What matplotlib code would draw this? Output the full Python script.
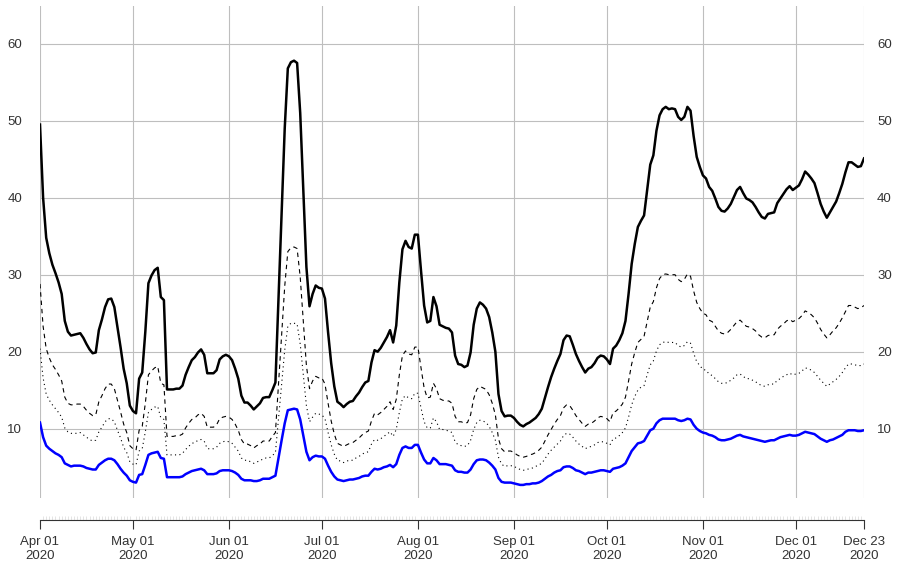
import numpy as np
import pandas as pd
import matplotlib
matplotlib.use("Agg")
import matplotlib.pyplot as plt
import matplotlib.dates as mdates

plt.rcParams['font.family'] = ['Liberation Sans', 'DejaVu Sans']

# daily observations, 2020-04-01 .. 2020-12-23
start, end = '2020-04-01', '2020-12-23'

upper = [49.5, 40.0, 34.8, 32.8, 31.3, 30.2, 29.0, 27.5, 24.0, 22.6,
         22.1, 22.2, 22.3, 22.4, 21.8, 21.0, 20.3, 19.8, 19.9, 22.8,
         24.2, 25.8, 26.8, 26.9, 25.8, 23.2, 20.6, 17.8, 15.9, 13.0,
         12.3, 12.0, 16.5, 17.3, 22.6, 28.9, 29.9, 30.6, 30.9, 27.1,
         26.7, 15.1, 15.1, 15.1, 15.2, 15.2, 15.6, 17.0, 18.0, 18.9,
         19.3, 19.9, 20.3, 19.6, 17.2, 17.2, 17.2, 17.6, 19.0, 19.4,
         19.6, 19.4, 18.9, 17.8, 16.5, 14.3, 13.4, 13.4, 13.0, 12.5,
         12.9, 13.3, 14.0, 14.1, 14.1, 15.0, 16.0, 27.0, 38.0, 49.0,
         56.8, 57.6, 57.8, 57.5, 51.0, 41.0, 31.0, 25.9, 27.5, 28.6,
         28.3, 28.2, 26.9, 22.5, 18.5, 15.5, 13.5, 13.2, 12.8, 13.2,
         13.5, 13.6, 14.2, 14.7, 15.4, 16.0, 16.2, 18.6, 20.2, 20.0,
         20.5, 21.2, 21.9, 22.8, 21.2, 23.4, 29.0, 33.3, 34.4, 33.6,
         33.4, 35.2, 35.2, 30.5, 26.0, 23.8, 24.0, 27.1, 25.9, 23.5,
         23.3, 23.1, 23.0, 22.5, 19.5, 18.4, 18.3, 18.0, 18.2, 19.9,
         23.5, 25.6, 26.4, 26.1, 25.6, 24.5, 22.5, 20.0, 14.5, 12.3,
         11.6, 11.7, 11.7, 11.4, 10.9, 10.5, 10.3, 10.6, 10.8, 11.1,
         11.4, 11.9, 12.6, 14.0, 15.4, 16.7, 17.8, 18.8, 19.7, 21.5,
         22.1, 22.0, 20.9, 19.7, 18.8, 18.0, 17.3, 17.8, 18.0, 18.5,
         19.2, 19.5, 19.4, 19.0, 18.4, 20.4, 20.8, 21.5, 22.4, 24.0,
         27.5, 31.4, 34.0, 36.2, 37.0, 37.7, 41.0, 44.3, 45.5, 48.7,
         50.7, 51.5, 51.8, 51.5, 51.6, 51.5, 50.5, 50.1, 50.5, 51.8,
         51.3, 48.0, 45.3, 44.0, 42.9, 42.5, 41.4, 40.9, 39.9, 38.8,
         38.3, 38.2, 38.6, 39.2, 40.1, 41.0, 41.4, 40.6, 39.9, 39.7,
         39.4, 38.8, 38.1, 37.5, 37.3, 37.9, 38.0, 38.1, 39.3, 39.9,
         40.5, 41.1, 41.5, 41.0, 41.3, 41.6, 42.4, 43.4, 43.0, 42.5,
         41.9, 40.6, 39.2, 38.2, 37.4, 38.1, 38.8, 39.5, 40.6, 41.8,
         43.3, 44.6, 44.6, 44.3, 44.0, 44.1, 45.1]

dashed = [28.8, 23.3, 20.4, 19.2, 18.3, 17.7, 17.0, 16.2, 14.1, 13.3,
          13.1, 13.1, 13.2, 13.2, 12.9, 12.4, 12.0, 11.7, 11.8, 13.5,
          14.3, 15.2, 15.8, 15.8, 15.2, 13.7, 12.2, 10.6, 9.5, 7.8,
          7.4, 7.2, 9.8, 10.3, 13.3, 17.0, 17.5, 17.9, 18.1, 15.9,
          15.7, 9.0, 9.0, 9.0, 9.1, 9.1, 9.3, 10.1, 10.7, 11.2,
          11.4, 11.8, 12.0, 11.6, 10.2, 10.2, 10.2, 10.5, 11.3, 11.5,
          11.6, 11.5, 11.2, 10.6, 9.8, 8.6, 8.0, 8.0, 7.8, 7.5,
          7.8, 8.0, 8.4, 8.4, 8.4, 9.0, 9.5, 15.9, 22.2, 28.5,
          33.0, 33.5, 33.6, 33.4, 29.7, 23.9, 18.2, 15.2, 16.2, 16.8,
          16.6, 16.6, 15.8, 13.3, 11.0, 9.3, 8.1, 7.9, 7.7, 7.9,
          8.1, 8.2, 8.5, 8.8, 9.2, 9.5, 9.7, 11.0, 12.0, 11.8,
          12.1, 12.5, 12.9, 13.5, 12.5, 13.8, 17.0, 19.5, 20.1, 19.7,
          19.6, 20.6, 20.6, 17.9, 15.3, 14.0, 14.1, 15.9, 15.2, 13.9,
          13.7, 13.6, 13.6, 13.3, 11.6, 10.9, 10.9, 10.7, 10.8, 11.8,
          13.9, 15.1, 15.5, 15.3, 15.1, 14.4, 13.3, 11.8, 8.7, 7.4,
          7.0, 7.1, 7.1, 6.9, 6.6, 6.4, 6.3, 6.4, 6.6, 6.7,
          6.9, 7.2, 7.6, 8.4, 9.2, 9.9, 10.6, 11.2, 11.7, 12.7,
          13.1, 13.0, 12.4, 11.7, 11.2, 10.7, 10.3, 10.6, 10.7, 11.0,
          11.4, 11.6, 11.5, 11.3, 10.9, 12.1, 12.3, 12.7, 13.2, 14.1,
          16.2, 18.4, 19.9, 21.2, 21.6, 22.0, 23.9, 25.8, 26.5, 28.3,
          29.5, 30.0, 30.1, 30.0, 30.0, 30.0, 29.4, 29.1, 29.4, 30.1,
          29.8, 27.9, 26.4, 25.6, 25.0, 24.8, 24.1, 23.9, 23.3, 22.7,
          22.4, 22.3, 22.5, 22.9, 23.4, 23.9, 24.1, 23.7, 23.3, 23.2,
          23.0, 22.7, 22.2, 21.9, 21.8, 22.1, 22.2, 22.2, 22.9, 23.3,
          23.6, 24.0, 24.2, 23.9, 24.1, 24.3, 24.7, 25.3, 25.1, 24.8,
          24.4, 23.7, 22.9, 22.3, 21.8, 22.2, 22.7, 23.1, 23.7, 24.4,
          25.2, 26.0, 26.0, 25.8, 25.6, 25.7, 26.0]

dotted = [20.4, 16.6, 14.5, 13.7, 13.1, 12.6, 12.1, 11.5, 10.1, 9.6,
          9.4, 9.4, 9.4, 9.5, 9.2, 8.9, 8.6, 8.4, 8.5, 9.6,
          10.2, 10.9, 11.3, 11.3, 10.9, 9.8, 8.8, 7.6, 6.9, 5.7,
          5.4, 5.3, 7.1, 7.4, 9.6, 12.1, 12.5, 12.8, 12.9, 11.4,
          11.2, 6.6, 6.6, 6.6, 6.6, 6.6, 6.8, 7.3, 7.7, 8.1,
          8.2, 8.5, 8.6, 8.4, 7.4, 7.4, 7.4, 7.6, 8.1, 8.3,
          8.4, 8.3, 8.1, 7.6, 7.1, 6.2, 5.9, 5.9, 5.7, 5.5,
          5.7, 5.8, 6.1, 6.2, 6.2, 6.5, 6.9, 11.3, 15.8, 20.2,
          23.3, 23.7, 23.7, 23.6, 21.0, 17.0, 13.0, 10.9, 11.5, 12.0,
          11.9, 11.8, 11.3, 9.5, 7.9, 6.7, 5.9, 5.8, 5.6, 5.8,
          5.9, 5.9, 6.2, 6.4, 6.7, 6.9, 7.0, 8.0, 8.6, 8.5,
          8.7, 9.0, 9.3, 9.6, 9.0, 9.9, 12.1, 13.9, 14.3, 14.0,
          13.9, 14.6, 14.6, 12.7, 10.9, 10.1, 10.1, 11.4, 10.9, 9.9,
          9.9, 9.8, 9.7, 9.5, 8.3, 7.9, 7.8, 7.7, 7.8, 8.5,
          9.9, 10.8, 11.1, 11.0, 10.8, 10.3, 9.5, 8.5, 6.3, 5.4,
          5.1, 5.2, 5.2, 5.1, 4.9, 4.7, 4.6, 4.7, 4.8, 4.9,
          5.1, 5.3, 5.5, 6.1, 6.7, 7.2, 7.6, 8.0, 8.4, 9.1,
          9.4, 9.3, 8.9, 8.4, 8.0, 7.7, 7.4, 7.6, 7.7, 7.9,
          8.2, 8.3, 8.3, 8.1, 7.9, 8.7, 8.8, 9.1, 9.5, 10.1,
          11.5, 13.1, 14.2, 15.0, 15.4, 15.6, 17.0, 18.3, 18.8, 20.1,
          20.9, 21.2, 21.3, 21.2, 21.2, 21.2, 20.8, 20.6, 20.8, 21.3,
          21.1, 19.8, 18.7, 18.2, 17.7, 17.6, 17.1, 16.9, 16.5, 16.1,
          15.9, 15.9, 16.0, 16.3, 16.6, 17.0, 17.1, 16.8, 16.5, 16.5,
          16.3, 16.1, 15.8, 15.6, 15.5, 15.7, 15.8, 15.8, 16.3, 16.5,
          16.8, 17.0, 17.2, 17.0, 17.1, 17.2, 17.5, 17.9, 17.8, 17.6,
          17.3, 16.8, 16.3, 15.9, 15.5, 15.8, 16.1, 16.4, 16.8, 17.3,
          17.9, 18.4, 18.4, 18.3, 18.2, 18.2, 18.4]

lower = [10.8, 8.9, 7.8, 7.4, 7.1, 6.8, 6.6, 6.3, 5.5, 5.3,
         5.1, 5.2, 5.2, 5.2, 5.1, 4.9, 4.8, 4.7, 4.7, 5.3,
         5.6, 5.9, 6.1, 6.1, 5.9, 5.4, 4.8, 4.3, 3.9, 3.3,
         3.1, 3.0, 4.0, 4.1, 5.3, 6.6, 6.8, 6.9, 7.0, 6.2,
         6.1, 3.7, 3.7, 3.7, 3.7, 3.7, 3.8, 4.1, 4.3, 4.5,
         4.6, 4.7, 4.8, 4.6, 4.1, 4.1, 4.1, 4.2, 4.5, 4.6,
         4.6, 4.6, 4.5, 4.3, 4.0, 3.5, 3.3, 3.3, 3.3, 3.2,
         3.2, 3.3, 3.5, 3.5, 3.5, 3.7, 3.9, 6.2, 8.5, 10.7,
         12.4, 12.5, 12.6, 12.5, 11.2, 9.1, 7.0, 5.9, 6.3, 6.5,
         6.4, 6.4, 6.1, 5.2, 4.4, 3.8, 3.4, 3.3, 3.2, 3.3,
         3.4, 3.4, 3.5, 3.6, 3.8, 3.9, 3.9, 4.4, 4.8, 4.7,
         4.8, 5.0, 5.1, 5.3, 5.0, 5.4, 6.6, 7.5, 7.7, 7.5,
         7.5, 7.9, 7.9, 6.9, 6.0, 5.5, 5.5, 6.2, 5.9, 5.4,
         5.4, 5.4, 5.3, 5.2, 4.6, 4.4, 4.4, 4.3, 4.3, 4.7,
         5.4, 5.9, 6.0, 6.0, 5.9, 5.6, 5.2, 4.7, 3.6, 3.1,
         3.0, 3.0, 3.0, 2.9, 2.8, 2.7, 2.7, 2.8, 2.8, 2.9,
         2.9, 3.0, 3.2, 3.5, 3.8, 4.0, 4.3, 4.5, 4.6, 5.0,
         5.1, 5.1, 4.9, 4.6, 4.5, 4.3, 4.1, 4.3, 4.3, 4.4,
         4.5, 4.6, 4.6, 4.5, 4.4, 4.8, 4.9, 5.0, 5.2, 5.5,
         6.3, 7.1, 7.6, 8.1, 8.2, 8.4, 9.1, 9.8, 10.0, 10.7,
         11.1, 11.3, 11.3, 11.3, 11.3, 11.3, 11.1, 11.0, 11.1, 11.3,
         11.2, 10.5, 10.0, 9.7, 9.5, 9.4, 9.2, 9.1, 8.9, 8.6,
         8.5, 8.5, 8.6, 8.7, 8.9, 9.1, 9.2, 9.0, 8.9, 8.8,
         8.7, 8.6, 8.5, 8.4, 8.3, 8.4, 8.5, 8.5, 8.7, 8.9,
         9.0, 9.1, 9.2, 9.1, 9.1, 9.2, 9.4, 9.6, 9.5, 9.4,
         9.3, 9.0, 8.7, 8.5, 8.3, 8.5, 8.6, 8.8, 9.0, 9.2,
         9.6, 9.8, 9.8, 9.8, 9.7, 9.7, 9.8]

y_ticks = [10, 20, 30, 40, 50, 60]

dates = pd.date_range(start, end, freq='D')
assert len(dates) == len(upper) == len(dashed) == len(dotted) == len(lower)

PX = 72 / 100  # points per pixel
fig = plt.figure(figsize=(8.98, 5.64), dpi=100)
ax = fig.add_axes([40/898, 66/564, 824/898, 492/564])

ax.plot(dates, upper, color='black', lw=1.8, solid_joinstyle='round')
ax.plot(dates, dashed, color='black', lw=0.8, linestyle=(0, (4, 3.5)))
ax.plot(dates, dotted, color='black', lw=0.8, linestyle=(0, (1, 3)))
ax.plot(dates, lower, color='blue', lw=1.8, solid_joinstyle='round')

ax.set_xlim(dates[0], dates[-1])
ax.set_ylim(1.0, 64.9)

# x axis: month starts plus the last day
major = list(pd.date_range(start, end, freq='MS')) + [dates[-1]]
ax.set_xticks(major)
ax.set_xticklabels([d.strftime('%b %d\n%Y') for d in major])
ax.set_xticks(dates, minor=True)
ax.tick_params(axis='x', which='major', direction='out', length=9*PX,
               width=0.8, color='#333333', labelcolor='#333333',
               labelsize=9.5, pad=7*PX)
ax.tick_params(axis='x', which='minor', direction='in', length=4*PX,
               width=0.5, color='#d9d9d9')

ax.set_yticks(y_ticks)
ax.tick_params(axis='y', length=0, labelsize=9.5, labelcolor='#333333',
               pad=18*PX)

ax.grid(True, which='major', color='#bebebe', lw=0.8)
for s in ['left', 'right', 'top']:
    ax.spines[s].set_visible(False)
ax.spines['bottom'].set_position(('outward', 22*PX))
ax.spines['bottom'].set_color('#333333')
ax.spines['bottom'].set_linewidth(0.8)

ax2 = ax.twinx()
ax2.set_ylim(ax.get_ylim())
ax2.set_yticks(y_ticks)
ax2.tick_params(axis='y', length=0, labelsize=9.5, labelcolor='#333333',
                pad=13*PX)
for s in ax2.spines.values():
    s.set_visible(False)

fig.savefig('out.png', dpi=100)
